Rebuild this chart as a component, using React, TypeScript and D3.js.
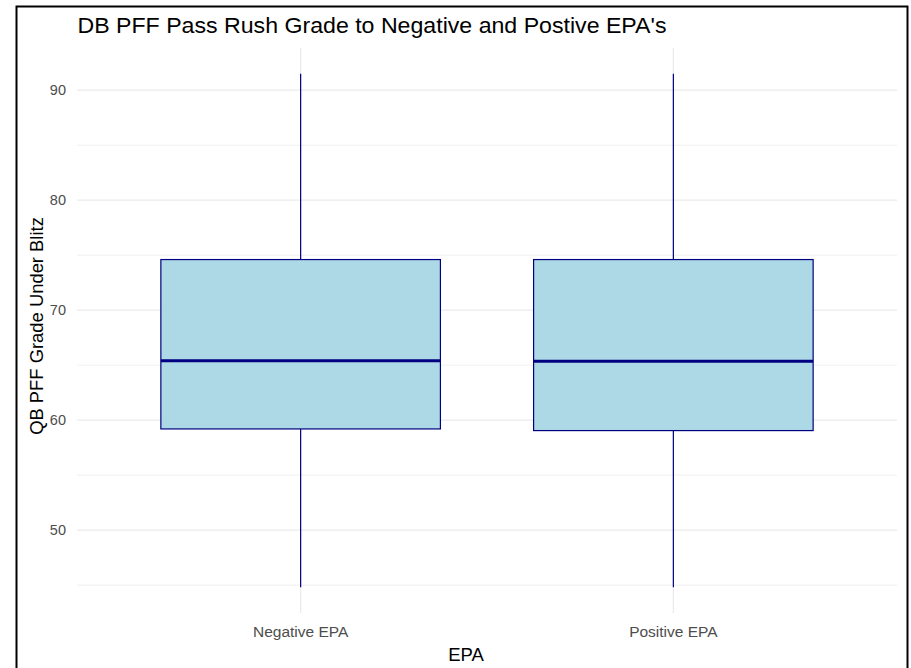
import React from "react";
import * as d3 from "d3";

const categories = ["Negative EPA", "Positive EPA"];
const whiskerLow = [44.8, 44.8];
const q1 = [59.2, 59.05];
const median = [65.4, 65.35];
const q3 = [74.6, 74.6];
const whiskerHigh = [91.5, 91.5];
const yTicks = [50, 60, 70, 80, 90];
const yMinorTicks = [45, 55, 65, 75, 85];

const W = 911;
const H = 668;
const panel = { left: 77, right: 897, top: 48, bottom: 613 };
const FONT = "'Liberation Sans', Arial, Helvetica, sans-serif";

export default function App() {
  const dataMin = d3.min(whiskerLow) as number;
  const dataMax = d3.max(whiskerHigh) as number;
  const pad = (dataMax - dataMin) * 0.05;
  const y = d3
    .scaleLinear()
    .domain([dataMin - pad, dataMax + pad])
    .range([panel.bottom, panel.top]);

  // discrete scale with ggplot-style 0.6 expansion
  const xCont = d3
    .scaleLinear()
    .domain([1 - 0.6, categories.length + 0.6])
    .range([panel.left, panel.right]);
  const x = (i: number) => xCont(i + 1);
  const boxHalf = xCont(1.375) - xCont(1);

  const minor = yMinorTicks.filter((t) => y(t) >= panel.top && y(t) <= panel.bottom);

  return (
    <svg
      width={W}
      height={H}
      style={{ position: "absolute", left: 0, top: 0, background: "#fff" }}
      fontFamily={FONT}
    >
      <rect x={0} y={0} width={W} height={H} fill="#fff" />
      {/* gridlines */}
      {minor.map((t) => (
        <line key={"mn" + t} x1={panel.left} x2={panel.right} y1={y(t)} y2={y(t)} stroke="#ededed" strokeWidth={0.8} />
      ))}
      {yTicks.map((t) => (
        <line key={"mj" + t} x1={panel.left} x2={panel.right} y1={y(t)} y2={y(t)} stroke="#ebebeb" strokeWidth={1.2} />
      ))}
      {categories.map((c, i) => (
        <line key={"vg" + c} x1={x(i)} x2={x(i)} y1={panel.top} y2={panel.bottom} stroke="#ebebeb" strokeWidth={1.2} />
      ))}
      {/* boxes */}
      {categories.map((c, i) => (
        <g key={"box" + c}>
          <line x1={x(i)} x2={x(i)} y1={y(whiskerHigh[i])} y2={y(q3[i])} stroke="#000080" strokeWidth={1.2} />
          <line x1={x(i)} x2={x(i)} y1={y(q1[i])} y2={y(whiskerLow[i])} stroke="#000080" strokeWidth={1.2} />
          <rect
            x={x(i) - boxHalf}
            y={y(q3[i])}
            width={boxHalf * 2}
            height={y(q1[i]) - y(q3[i])}
            fill="#add8e6"
            stroke="#000080"
            strokeWidth={1.2}
          />
          <line x1={x(i) - boxHalf} x2={x(i) + boxHalf} y1={y(median[i])} y2={y(median[i])} stroke="#000080" strokeWidth={3} />
        </g>
      ))}
      {/* y tick labels */}
      {yTicks.map((t) => (
        <text key={"yl" + t} x={66} y={y(t)} dy="0.36em" textAnchor="end" fontSize={14.5} fill="#4d4d4d">
          {t}
        </text>
      ))}
      {/* x tick labels */}
      {categories.map((c, i) => (
        <text key={"xl" + c} x={x(i)} y={637} textAnchor="middle" fontSize={15.5} fill="#4d4d4d">
          {c}
        </text>
      ))}
      {/* axis titles */}
      <text x={466} y={661} textAnchor="middle" fontSize={18.5} fill="#000">
        EPA
      </text>
      <text
        transform={`translate(43, 326) rotate(-90)`}
        textAnchor="middle"
        fontSize={18.4}
        fill="#000"
      >
        QB PFF Grade Under Blitz
      </text>
      {/* title */}
      <text x={77.5} y={33} fontSize={21.5} fill="#000" textLength={589} lengthAdjust="spacingAndGlyphs">
        DB PFF Pass Rush Grade to Negative and Postive EPA's
      </text>
      {/* outer border */}
      <rect x={16.5} y={6.5} width={891} height={H + 10} fill="none" stroke="#000" strokeWidth={2} />
    </svg>
  );
}
